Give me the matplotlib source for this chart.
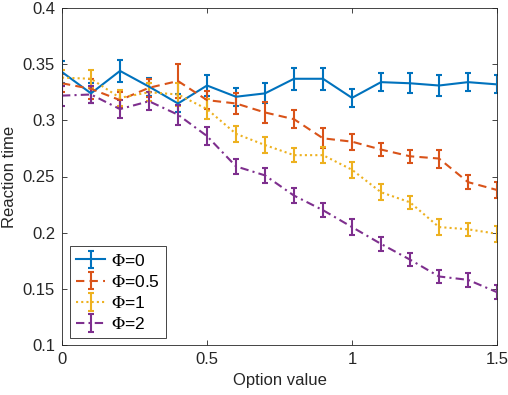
import matplotlib
matplotlib.use("Agg")
import matplotlib.pyplot as plt
import numpy as np

plt.rcParams['font.family'] = ['Liberation Sans', 'DejaVu Sans']
plt.rcParams['mathtext.fontset'] = 'stix'

x = [0.0, 0.1, 0.2, 0.3, 0.4, 0.5, 0.6, 0.7, 0.8, 0.9, 1.0, 1.1, 1.2, 1.3, 1.4, 1.5]

phi0 = [0.343, 0.324, 0.344, 0.330, 0.315, 0.331, 0.321, 0.324, 0.337, 0.337, 0.320, 0.334, 0.333, 0.331, 0.334, 0.332]
phi0_err = [0.010, 0.009, 0.010, 0.008, 0.008, 0.009, 0.008, 0.009, 0.010, 0.010, 0.008, 0.008, 0.009, 0.009, 0.008, 0.008]

phi05 = [0.333, 0.328, 0.318, 0.329, 0.335, 0.318, 0.315, 0.307, 0.301, 0.284, 0.281, 0.274, 0.268, 0.266, 0.245, 0.238]
phi05_err = [0.008, 0.009, 0.007, 0.008, 0.015, 0.008, 0.009, 0.009, 0.008, 0.009, 0.007, 0.006, 0.006, 0.008, 0.006, 0.007]

phi1 = [0.338, 0.337, 0.320, 0.325, 0.323, 0.310, 0.288, 0.278, 0.269, 0.269, 0.256, 0.236, 0.227, 0.205, 0.203, 0.199]
phi1_err = [0.007, 0.008, 0.007, 0.008, 0.010, 0.009, 0.007, 0.007, 0.006, 0.007, 0.007, 0.007, 0.006, 0.007, 0.006, 0.007]

phi2 = [0.322, 0.323, 0.310, 0.317, 0.305, 0.286, 0.259, 0.251, 0.233, 0.220, 0.205, 0.190, 0.176, 0.161, 0.158, 0.147]
phi2_err = [0.009, 0.008, 0.008, 0.008, 0.009, 0.008, 0.007, 0.007, 0.007, 0.006, 0.007, 0.006, 0.006, 0.006, 0.006, 0.006]

labels = [r'$\Phi$=0', r'$\Phi$=0.5', r'$\Phi$=1', r'$\Phi$=2']
colors = ['#0072BD', '#D95319', '#EDB120', '#7E2F8E']
styles = ['-', (0, (4, 2.5)), (0, (1, 1.5)), (0, (4, 2, 1, 2))]

xticks = [0, 0.5, 1, 1.5]
xticklabels = ['0', '0.5', '1', '1.5']
yticks = [0.1, 0.15, 0.2, 0.25, 0.3, 0.35, 0.4]
yticklabels = ['0.1', '0.15', '0.2', '0.25', '0.3', '0.35', '0.4']

fig = plt.figure(figsize=(5.08, 3.95), dpi=100)
ax = fig.add_axes([62/508, 50/395, 435/508, 337/395])

series = [(phi0, phi0_err), (phi05, phi05_err), (phi1, phi1_err), (phi2, phi2_err)]
for (y, e), lab, c, ls in zip(series, labels, colors, styles):
    ax.errorbar(x, y, yerr=e, color=c, linestyle=ls, linewidth=1.5,
                elinewidth=1.5, capsize=2.5, capthick=1.5, label=lab)

ax.set_xlim(0, 1.5)
ax.set_ylim(0.1, 0.4)
ax.set_xticks(xticks)
ax.set_xticklabels(xticklabels)
ax.set_yticks(yticks)
ax.set_yticklabels(yticklabels)
ax.tick_params(direction='in', length=3.5, width=0.6, top=True, right=True,
               labelsize=12, colors='#262626', pad=5)
for s in ax.spines.values():
    s.set_color('#262626')
    s.set_linewidth(0.6)

ax.set_xlabel('Option value', fontsize=12, color='#262626', labelpad=4)
ax.set_ylabel('Reaction time', fontsize=12, color='#262626', labelpad=4)

leg = ax.legend(loc='lower left', bbox_to_anchor=(0.018, 0.02), borderaxespad=0,
                fontsize=12.5, fancybox=False, edgecolor='#262626', framealpha=1,
                handlelength=1.7, handletextpad=0.3, borderpad=0.35, labelspacing=0.3)
leg.get_frame().set_linewidth(0.6)

fig.savefig('out.png', dpi=100)
